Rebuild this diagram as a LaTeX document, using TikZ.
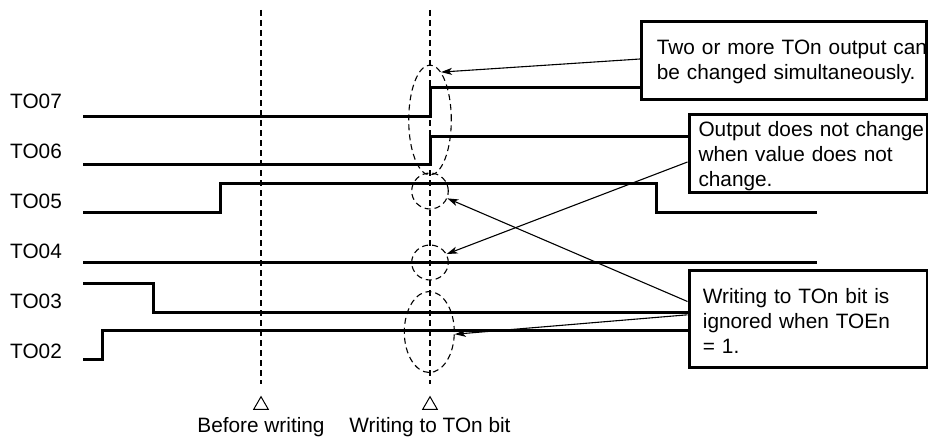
\documentclass[tikz,border=0pt]{standalone}
\usepackage{fontspec}
\setmainfont{Liberation Sans}
\usetikzlibrary{shapes.geometric,arrows.meta}
\begin{document}
\begin{tikzpicture}[x=1pt,y=-1pt,
  sig/.style={line width=3pt, line join=miter},
  guide/.style={line width=1.1pt, dash pattern=on 6pt off 4pt},
  ring/.style={draw, ellipse, line width=1.1pt, dash pattern=on 6pt off 4pt, inner sep=0pt},
  notebox/.style={draw, line width=3pt, rectangle, inner sep=0pt},
  notetext/.style={anchor=base west, align=left, inner sep=0pt, text width=300pt, font=\fontsize{20.8}{25}\selectfont},
  lbl/.style={anchor=west, inner sep=0pt, font=\fontsize{20.8}{25}\selectfont},
  tri/.style={draw, regular polygon, regular polygon sides=3, minimum size=17pt, inner sep=0pt, line width=1pt},
  ptr/.style={line width=1.1pt, -{Stealth[length=11pt,width=7pt,inset=3pt]}}
]
\fill[white] (0,0) rectangle (928,444);
\useasboundingbox (0,0) rectangle (928,444);

% signal labels
\node[lbl] (l7) at (10,101.7) {TO07};
\node[lbl] (l6) at (10,151.7) {TO06};
\node[lbl] (l5) at (10,201.7) {TO05};
\node[lbl] (l4) at (10,251.7) {TO04};
\node[lbl] (l3) at (10,301.7) {TO03};
\node[lbl] (l2) at (10,351.7) {TO02};

% note boxes
\node[notebox, minimum width=285pt, minimum height=78pt] (b1) at (784,60.5) {};
\node[notebox, minimum width=238pt, minimum height=78pt] (b2) at (808,153.5) {};
\node[notebox, minimum width=238pt, minimum height=97pt] (b3) at (808,318.5) {};
\node[notetext] (n1) at (656.7,54.3) {Two or more TOn output can\\be changed simultaneously.};
\node[notetext] (n2) at (698.3,136) {Output does not change\\when value does not\\change.};
\node[notetext] (n3) at (702.7,303.5) {Writing to TOn bit is\\ignored when TOEn\\= 1.};

% signals
\draw[sig] (83,116.5) -- (430.5,116.5) -- (430.5,87.5) -- (641.5,87.5);
\draw[sig] (83,164.5) -- (430.5,164.5) -- (430.5,136.5) -- (689,136.5);
\draw[sig] (83,212.5) -- (220.5,212.5) -- (220.5,183.5) -- (656.5,183.5) -- (656.5,212.5) -- (817,212.5);
\draw[sig] (83,262.5) -- (817,262.5);
\draw[sig] (83,283.5) -- (153.5,283.5) -- (153.5,312.5) -- (689,312.5);
\draw[sig] (83,359.5) -- (102.5,359.5) -- (102.5,330.5) -- (689,330.5);

% time markers
\node[tri] (tr1) at (261,405.2) {};
\node[tri] (tr2) at (430,405.2) {};
\coordinate (top1) at (261,10);
\coordinate (top2) at (430,10);
\draw[guide] (top1) -- ([yshift=11.7pt]tr1.north);
\draw[guide] (top2) -- ([yshift=11.7pt]tr2.north);
\node[anchor=base, inner sep=0pt, font=\fontsize{20.8}{25}\selectfont] (c1) at (261,432) {Before writing};
\node[anchor=base, inner sep=0pt, font=\fontsize{20.8}{25}\selectfont] (c2) at (430,432) {Writing to TOn bit};

% dashed rings
\node[ring, minimum width=42.6pt, minimum height=110pt] (e1) at (430,120) {};
\node[ring, minimum width=36.6pt, minimum height=36pt] (e2) at (430,191) {};
\node[ring, minimum width=36.6pt, minimum height=35pt] (e3) at (430,262.5) {};
\node[ring, minimum width=50pt, minimum height=81pt] (e4) at (429.3,332) {};

% pointers
\draw[ptr] ([yshift=1.5pt]b1.west) -- (e1.77);
\draw[ptr] ([yshift=-8.5pt]b2.west) -- (e3.27);
\draw[ptr] ([yshift=17pt]b3.west) -- (e2.-23);
\draw[ptr] ([yshift=3.7pt]b3.west) -- (e4.-5);
\end{tikzpicture}
\end{document}
